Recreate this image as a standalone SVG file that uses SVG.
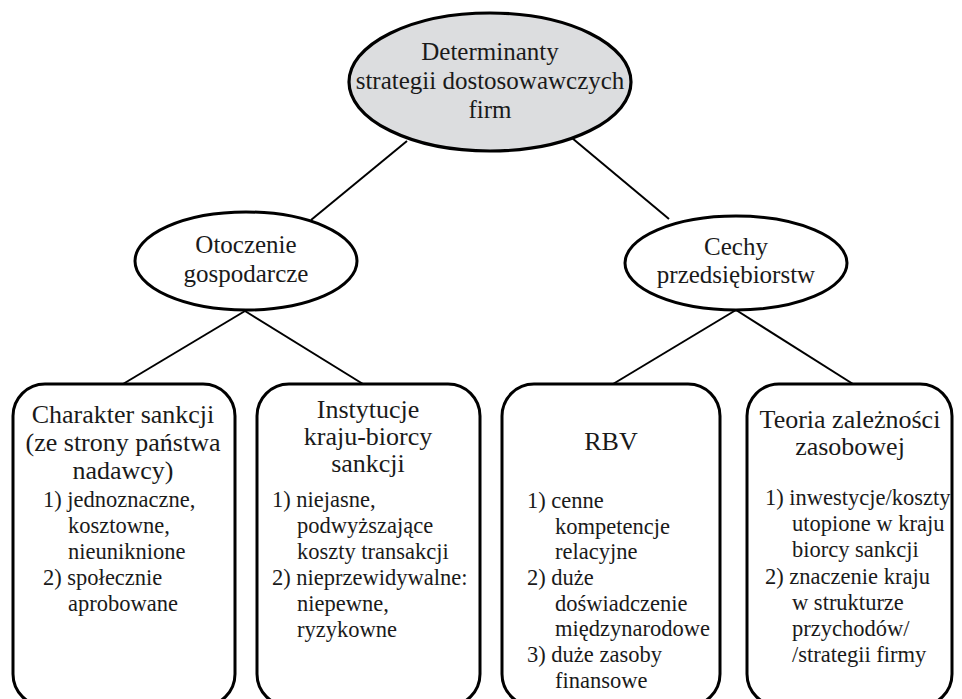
<svg xmlns="http://www.w3.org/2000/svg" width="962" height="699" viewBox="0 0 962 699">
<style>
text{font-family:'Liberation Serif','DejaVu Serif',serif;fill:#1a1a1a}
.t{font-size:25px;text-anchor:middle}
.h{font-size:26px;text-anchor:middle}
.l{font-size:22.5px}
.node{fill:#fff;stroke:#000;stroke-width:3}
.root{fill:#dcdddf;stroke:#000;stroke-width:3.2}
.conn line{stroke:#000;stroke-width:2}
</style>
<rect width="962" height="699" fill="#fff"/>
<g id="connectors" class="conn">
<line x1="407" y1="141" x2="311" y2="220"/>
<line x1="572" y1="138" x2="669" y2="219"/>
<line x1="245" y1="311" x2="123" y2="384"/>
<line x1="245" y1="311" x2="363" y2="384"/>
<line x1="736" y1="310" x2="613" y2="384"/>
<line x1="736" y1="310" x2="853" y2="384"/>
</g>
<g id="root">
<ellipse class="root" cx="490" cy="82" rx="141" ry="69"/>
<text class="t" x="490" y="60">Determinanty</text>
<text class="t" x="490" y="89">strategii dostosowawczych</text>
<text class="t" x="490" y="118">firm</text>
</g>
<g id="otoczenie">
<ellipse class="node" cx="246" cy="261" rx="111" ry="49"/>
<text class="t" x="246" y="253">Otoczenie</text>
<text class="t" x="246" y="282">gospodarcze</text>
</g>
<g id="cechy">
<ellipse class="node" cx="736" cy="263" rx="111" ry="47"/>
<text class="t" x="736" y="255">Cechy</text>
<text class="t" x="736" y="283">przedsiębiorstw</text>
</g>
<g id="charakter">
<rect class="node" x="13" y="384" width="222" height="322" rx="32"/>
<text class="h" x="123" y="423">Charakter sankcji</text>
<text class="h" x="123" y="451">(ze strony państwa</text>
<text class="h" x="123" y="479">nadawcy)</text>
<text class="l" x="43" y="507">1) jednoznaczne,</text>
<text class="l" x="68" y="533">kosztowne,</text>
<text class="l" x="68" y="559">nieuniknione</text>
<text class="l" x="43" y="585">2) społecznie</text>
<text class="l" x="68" y="611">aprobowane</text>
</g>
<g id="instytucje">
<rect class="node" x="257" y="384" width="223" height="322" rx="32"/>
<text class="h" x="368" y="418">Instytucje</text>
<text class="h" x="368" y="445">kraju-biorcy</text>
<text class="h" x="368" y="472">sankcji</text>
<text class="l" x="272" y="507">1) niejasne,</text>
<text class="l" x="297" y="533">podwyższające</text>
<text class="l" x="297" y="559">koszty transakcji</text>
<text class="l" x="272" y="585">2) nieprzewidywalne:</text>
<text class="l" x="297" y="611">niepewne,</text>
<text class="l" x="297" y="637">ryzykowne</text>
</g>
<g id="rbv">
<rect class="node" x="502" y="384" width="218" height="322" rx="32"/>
<text class="h" x="611" y="450">RBV</text>
<text class="l" x="527" y="508">1) cenne</text>
<text class="l" x="555" y="534">kompetencje</text>
<text class="l" x="555" y="559">relacyjne</text>
<text class="l" x="527" y="585">2) duże</text>
<text class="l" x="555" y="611">doświadczenie</text>
<text class="l" x="555" y="636">międzynarodowe</text>
<text class="l" x="527" y="662">3) duże zasoby</text>
<text class="l" x="555" y="688">finansowe</text>
</g>
<g id="teoria">
<rect class="node" x="747" y="384" width="205" height="322" rx="32"/>
<text class="h" x="850" y="428">Teoria zależności</text>
<text class="h" x="850" y="455">zasobowej</text>
<text class="l" x="765" y="505">1) inwestycje/koszty</text>
<text class="l" x="792" y="531">utopione w kraju</text>
<text class="l" x="792" y="557">biorcy sankcji</text>
<text class="l" x="765" y="584">2) znaczenie kraju</text>
<text class="l" x="792" y="610">w strukturze</text>
<text class="l" x="792" y="636">przychodów/</text>
<text class="l" x="792" y="662">/strategii firmy</text>
</g>
</svg>
